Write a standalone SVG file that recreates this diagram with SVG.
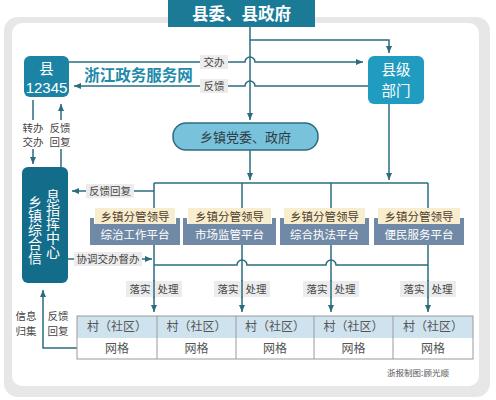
<svg xmlns="http://www.w3.org/2000/svg" width="496" height="400" viewBox="0 0 496 400">
<defs>
<marker id="ah" markerWidth="8" markerHeight="8" refX="7" refY="4" orient="auto" markerUnits="userSpaceOnUse">
<path d="M0,1 L7,4 L0,7 Z" fill="#2b6c7e"/>
</marker>
<style>
.ln{fill:none;stroke:#2b6c7e;stroke-width:1.5}
.t{font-family:"Noto Sans CJK SC","Liberation Sans",sans-serif}
.wb{fill:#fff;font-weight:bold}
.w{fill:#fff}
.lb{fill:#ececec}
.lt{font-size:10.5px;fill:#444;text-anchor:middle}
.cream{fill:#f8edcf}
.slate{fill:#6f89a6}
.ct{font-size:11.5px;fill:#4f3e2a;text-anchor:middle}
.st{font-size:11.5px;fill:#fff;text-anchor:middle}
.vt{font-size:12px;fill:#555;text-anchor:middle}
.vert{writing-mode:vertical-rl;font-size:14px;fill:#fff}
</style>
</defs>
<rect width="496" height="400" fill="#fff"/>
<rect x="4" y="17" width="486" height="380" rx="14" fill="#e7e7e7"/>
<rect x="12" y="23" width="467" height="363" rx="10" fill="#fff"/>

<g id="title">
<rect x="168" y="0" width="147" height="27" fill="#1b7b97"/>
<text class="t wb" x="241.5" y="20" font-size="16.5" text-anchor="middle">县委、县政府</text>
</g>

<g id="county12345">
<rect x="24" y="56" width="45" height="41" rx="6" fill="#1b84a4"/>
<text class="t w" x="46.5" y="74" font-size="14.5" text-anchor="middle">县</text>
<text x="46.5" y="93" font-size="15" fill="#fff" text-anchor="middle" font-family="Liberation Sans,sans-serif">12345</text>
</g>

<g id="zjweb">
<text class="t" x="138.5" y="81" font-size="15.5" font-weight="bold" fill="#2289ab" text-anchor="middle">浙江政务服务网</text>
</g>

<g id="countydept">
<rect x="368" y="56" width="56" height="48" rx="6" fill="#1f9cc0"/>
<text class="t w" x="396" y="75" font-size="14.5" text-anchor="middle">县级</text>
<text class="t w" x="396" y="96" font-size="14.5" text-anchor="middle">部门</text>
</g>

<g id="township">
<rect x="173" y="123" width="145" height="27" rx="13" fill="#78c2dc" stroke="#2b6c7e" stroke-width="1.5"/>
<text class="t" x="245.5" y="141.5" font-size="13" fill="#2f3d45" text-anchor="middle">乡镇党委、政府</text>
</g>

<g id="center">
<rect x="22" y="167" width="46" height="116" rx="6" fill="#136d8a"/>
<text class="t vert" x="35" y="195">乡镇综合信</text>
<text class="t vert" x="53" y="189">息指挥中心</text>
</g>

<g id="connectors">
<path class="ln" d="M69,62 H245 a5,5 0 0 1 10,0 H363" marker-end="url(#ah)"/>
<path class="ln" d="M368,86 H255 a5,5 0 0 0 -10,0 H74" marker-end="url(#ah)"/>
<path class="ln" d="M250,27 V120" marker-end="url(#ah)"/>
<path class="ln" d="M250,40 H389 V53" marker-end="url(#ah)"/>
<path class="ln" d="M389,104 V180" marker-end="url(#ah)"/>
<path class="ln" d="M250,150 V180" marker-end="url(#ah)"/>
<path class="ln" d="M154,183 H428"/>
<path class="ln" d="M154,183 V312" marker-end="url(#ah)"/>
<path class="ln" d="M242,183 V312" marker-end="url(#ah)"/>
<path class="ln" d="M331,183 V312" marker-end="url(#ah)"/>
<path class="ln" d="M428,183 V312" marker-end="url(#ah)"/>
<path class="ln" d="M154,265 H237 a5,5 0 0 1 10,0 H326 a5,5 0 0 1 10,0 H428"/>
<path class="ln" d="M154,191 H72" marker-end="url(#ah)"/>
<path class="ln" d="M68,259 H152" marker-end="url(#ah)"/>
<path class="ln" d="M33,100 V164" marker-end="url(#ah)"/>
<path class="ln" d="M61,167 V104" marker-end="url(#ah)"/>
<path class="ln" d="M77,348 H43 V290" marker-end="url(#ah)"/>
</g>

<g id="labels">
<rect class="lb" x="200" y="55" width="28" height="14"/>
<text class="t lt" x="214" y="66">交办</text>
<rect class="lb" x="200" y="79" width="28" height="14"/>
<text class="t lt" x="214" y="90">反馈</text>
<rect x="20" y="120" width="52" height="29" fill="#fff"/>
<text class="t lt" x="33" y="132">转办</text>
<text class="t lt" x="33" y="146">交办</text>
<text class="t lt" x="60" y="132">反馈</text>
<text class="t lt" x="60" y="146">回复</text>
<rect class="lb" x="86" y="184" width="48" height="14"/>
<text class="t lt" x="110" y="195">反馈回复</text>
<rect class="lb" x="74" y="252" width="68" height="14"/>
<text class="t lt" x="108" y="263">协调交办督办</text>
<text class="t lt" x="26" y="320">信息</text>
<text class="t lt" x="26" y="335">归集</text>
<text class="t lt" x="58" y="320">反馈</text>
<text class="t lt" x="58" y="335">回复</text>
</g>

<g id="platform1">
<rect class="slate" x="90" y="218" width="4" height="8"/><rect class="slate" x="176" y="218" width="4" height="8"/>
<rect class="slate" x="90" y="224" width="90" height="21"/>
<rect class="cream" x="95" y="208" width="80" height="16"/>
<text class="t ct" x="135" y="220.5">乡镇分管领导</text>
<text class="t st" x="135" y="239">综治工作平台</text>
</g>
<g id="platform2">
<rect class="slate" x="183" y="218" width="4" height="8"/><rect class="slate" x="272" y="218" width="4" height="8"/>
<rect class="slate" x="183" y="224" width="93" height="21"/>
<rect class="cream" x="188" y="208" width="83" height="16"/>
<text class="t ct" x="229.5" y="220.5">乡镇分管领导</text>
<text class="t st" x="229.5" y="239">市场监管平台</text>
</g>
<g id="platform3">
<rect class="slate" x="280" y="218" width="4" height="8"/><rect class="slate" x="365" y="218" width="4" height="8"/>
<rect class="slate" x="280" y="224" width="89" height="21"/>
<rect class="cream" x="284" y="208" width="81" height="16"/>
<text class="t ct" x="324.5" y="220.5">乡镇分管领导</text>
<text class="t st" x="324.5" y="239">综合执法平台</text>
</g>
<g id="platform4">
<rect class="slate" x="374" y="218" width="4" height="8"/><rect class="slate" x="460" y="218" width="4" height="8"/>
<rect class="slate" x="374" y="224" width="90" height="21"/>
<rect class="cream" x="378" y="208" width="82" height="16"/>
<text class="t ct" x="419" y="220.5">乡镇分管领导</text>
<text class="t st" x="419" y="239">便民服务平台</text>
</g>

<g id="dolabels">
<rect class="lb" x="126" y="281" width="56" height="16"/>
<rect class="lb" x="214" y="281" width="56" height="16"/>
<rect class="lb" x="303" y="281" width="56" height="16"/>
<rect class="lb" x="400" y="281" width="56" height="16"/>
<path class="ln" d="M154,280 V298 M242,280 V298 M331,280 V298 M428,280 V298"/>
<text class="t lt" x="140" y="293">落实</text><text class="t lt" x="168" y="293">处理</text>
<text class="t lt" x="228" y="293">落实</text><text class="t lt" x="256" y="293">处理</text>
<text class="t lt" x="317" y="293">落实</text><text class="t lt" x="345" y="293">处理</text>
<text class="t lt" x="414" y="293">落实</text><text class="t lt" x="442" y="293">处理</text>
</g>

<g id="villages">
<rect x="77" y="316" width="396" height="22" fill="#cfe3ef"/>
<rect x="77" y="316" width="396" height="43" fill="none" stroke="#9a9a9a" stroke-width="1"/>
<path d="M157,316 V359 M236,316 V359 M314,316 V359 M393,316 V359" stroke="#9a9a9a" stroke-width="1"/>
<text class="t vt" x="117" y="331">村（社区）</text><text class="t vt" x="117" y="353">网格</text>
<text class="t vt" x="196.5" y="331">村（社区）</text><text class="t vt" x="196.5" y="353">网格</text>
<text class="t vt" x="275" y="331">村（社区）</text><text class="t vt" x="275" y="353">网格</text>
<text class="t vt" x="353.5" y="331">村（社区）</text><text class="t vt" x="353.5" y="353">网格</text>
<text class="t vt" x="433" y="331">村（社区）</text><text class="t vt" x="433" y="353">网格</text>
</g>

<text class="t" x="418" y="376" font-size="8.5" fill="#555" text-anchor="middle">浙报制图:顾光顺</text>
</svg>
